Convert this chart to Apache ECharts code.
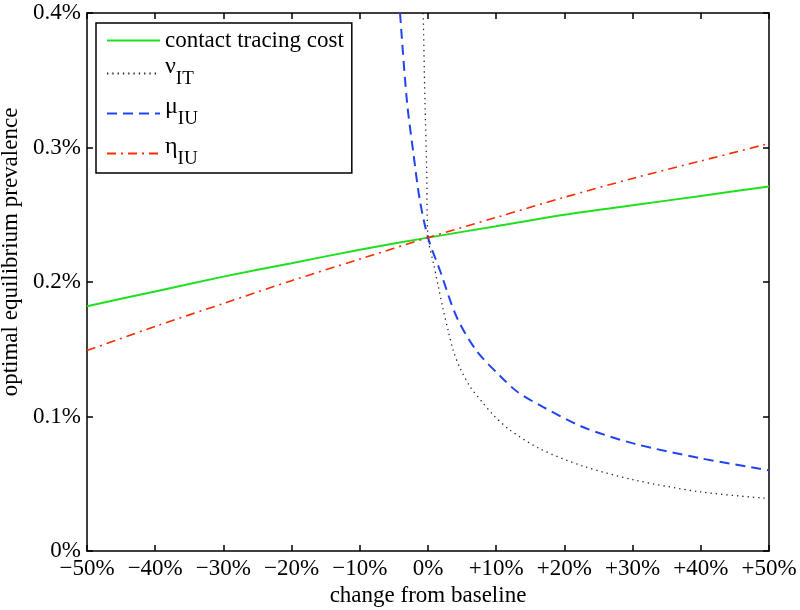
<!DOCTYPE html>
<html><head><meta charset="utf-8">
<script src="https://cdn.jsdelivr.net/npm/echarts/dist/echarts.min.js"></script>
<style>html,body{margin:0;padding:0;background:#fff}#c{width:800px;height:610px}</style>
</head><body><div id="c"></div>
<script>
// ---- tick labels ----
const xTicks = [-50, -40, -30, -20, -10, 0, 10, 20, 30, 40, 50];
const xTickLabels = ['\u221250%', '\u221240%', '\u221230%', '\u221220%', '\u221210%', '0%', '+10%', '+20%', '+30%', '+40%', '+50%'];
const yTicks = [0, 0.1, 0.2, 0.3, 0.4];
const yTickLabels = ['0%', '0.1%', '0.2%', '0.3%', '0.4%'];

// ---- series (x = change from baseline %, y = prevalence %) ----
const costX = [-50, -40, -30, -20, -10, 0, 10, 20, 30, 40, 50];
const costY = [0.182, 0.193, 0.204, 0.214, 0.224, 0.233, 0.2415, 0.250, 0.257, 0.264, 0.271];

const nuX = [-0.7, -0.45, -0.2, 0, 0.8, 1.5, 2.2, 3.0, 3.7, 4.7, 6.2, 7.9, 9.6, 12, 16.4, 22.8, 30.1, 39.9, 50];
const nuY = [0.400, 0.335, 0.286, 0.233, 0.214, 0.197, 0.180, 0.163, 0.149, 0.136, 0.122, 0.111, 0.101, 0.090, 0.076, 0.063, 0.053, 0.044, 0.039];

const muX = [-4.1, -3.1, -2.2, -1.2, 0, 1.8, 4.2, 7.1, 10.6, 13.2, 16.9, 22.8, 30.1, 39.9, 50];
const muY = [0.400, 0.335, 0.298, 0.261, 0.233, 0.208, 0.174, 0.149, 0.130, 0.118, 0.107, 0.092, 0.080, 0.069, 0.060];

const etaX = [-50, -40, -30, -20, -10, 0, 10, 20, 30, 40, 50];
const etaY = [0.149, 0.167, 0.184, 0.201, 0.217, 0.233, 0.248, 0.263, 0.277, 0.290, 0.303];

const seriesNames = ['contact tracing cost', 'nu', 'mu', 'eta'];
const legendMain = ['contact tracing cost', '\u03BD', '\u03BC', '\u03B7'];
const legendSub = ['', 'IT', 'IU', 'IU'];

const zip = (xs, ys) => xs.map((x, i) => [x, ys[i]]);
const FONT = 'Liberation Serif';
const FS = 23;

const chart = echarts.init(document.getElementById('c'), null, {renderer: 'canvas'});

const axisCommon = {
  type: 'value',
  axisLine: {show: true, onZero: false, lineStyle: {color: '#000', width: 1.5}},
  axisTick: {show: true, inside: true, length: 6, lineStyle: {color: '#000', width: 1.5}},
  splitLine: {show: false}
};

const option = {
  animation: false,
  backgroundColor: '#fff',
  grid: {left: 87, right: 31, top: 13, bottom: 59, containLabel: false, outerBoundsMode: 'none'},
  xAxis: [
    Object.assign({}, axisCommon, {
      position: 'bottom', min: -50, max: 50, interval: 10,
      name: 'change from baseline', nameLocation: 'middle', nameGap: 31,
      nameTextStyle: {fontFamily: FONT, fontSize: FS, color: '#000'},
      axisLabel: {
        margin: 6, fontFamily: FONT, fontSize: FS, color: '#000',
        formatter: v => { const i = xTicks.indexOf(Math.round(v)); return i >= 0 ? xTickLabels[i] : ''; }
      }
    }),
    Object.assign({}, axisCommon, {
      position: 'top', min: -50, max: 50, interval: 10,
      axisLabel: {show: false}
    })
  ],
  yAxis: [
    Object.assign({}, axisCommon, {
      position: 'left', min: 0, max: 0.4, interval: 0.1,
      name: 'optimal equilibrium prevalence', nameLocation: 'middle', nameGap: 47,
      nameTextStyle: {fontFamily: FONT, fontSize: FS, color: '#000', padding: [0, 0, 0, 60]},
      axisLabel: {
        margin: 6, fontFamily: FONT, fontSize: FS, color: '#000',
        formatter: v => { const i = yTicks.findIndex(t => Math.abs(t - v) < 1e-9); return i >= 0 ? yTickLabels[i] : ''; }
      }
    }),
    Object.assign({}, axisCommon, {
      position: 'right', min: 0, max: 0.4, interval: 0.1,
      axisLabel: {show: false}
    })
  ],
  legend: {
    left: 96, top: 23, orient: 'vertical',
    backgroundColor: '#fff', borderColor: '#000', borderWidth: 1.5,
    padding: [6, 8, 1, 10],
    itemWidth: 53, itemHeight: 14, itemGap: 3,
    itemStyle: {opacity: 0},
    data: seriesNames,
    formatter: name => {
      const i = seriesNames.indexOf(name);
      if (!legendSub[i]) return '{p|' + legendMain[i] + '}';
      return '{m|' + legendMain[i] + '}{s|' + legendSub[i] + '}';
    },
    textStyle: {
      fontFamily: FONT, fontSize: FS, color: '#000',
      rich: {
        p: {fontFamily: FONT, fontSize: FS, color: '#000', lineHeight: 28},
        m: {fontFamily: FONT, fontSize: 24, color: '#000', lineHeight: 20, padding: [0, 0, 13, 0]},
        s: {fontFamily: FONT, fontSize: 19, color: '#000', lineHeight: 17, padding: [12, 0, 0, 0]}
      }
    }
  },
  series: [
    {
      name: seriesNames[0], type: 'line', data: zip(costX, costY), smooth: 0.3,
      showSymbol: false, symbol: 'none', color: '#1ee01e',
      lineStyle: {color: '#1ee01e', width: 2}
    },
    {
      name: seriesNames[1], type: 'line', data: zip(nuX, nuY), smooth: 0.3,
      showSymbol: false, symbol: 'none', color: '#222',
      lineStyle: {color: '#222', width: 1.3, type: [1.3, 4]}
    },
    {
      name: seriesNames[2], type: 'line', data: zip(muX, muY), smooth: 0.3,
      showSymbol: false, symbol: 'none', color: '#2244ee',
      lineStyle: {color: '#2244ee', width: 2, type: [10, 6]}
    },
    {
      name: seriesNames[3], type: 'line', data: zip(etaX, etaY), smooth: 0.3,
      showSymbol: false, symbol: 'none', color: '#ff2a00',
      lineStyle: {color: '#ff2a00', width: 1.6, type: [9, 5, 2, 5]}
    }
  ]
};
chart.setOption(option);
</script>
</body></html>
